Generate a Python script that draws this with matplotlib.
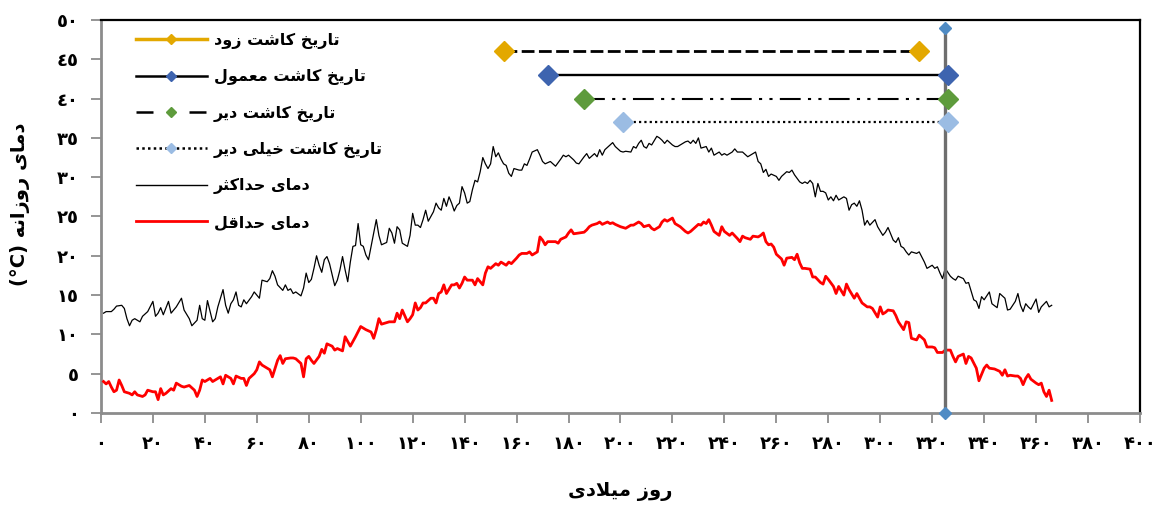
import matplotlib
matplotlib.use("Agg")
import matplotlib.pyplot as plt
from matplotlib.lines import Line2D
from matplotlib.font_manager import FontProperties

# ---------------------------------------------------------------- data
# daily maximum temperature (°C) by day of year
tmax_days = [
    1, 2, 4, 5, 6, 8, 9, 10, 11, 12,
    13, 15, 16, 18, 20, 21, 22, 23, 24, 26,
    27, 29, 31, 32, 34, 35, 37, 38, 39, 40,
    41, 43, 44, 45, 47, 48, 49, 50, 51, 52,
    53, 54, 55, 56, 58, 59, 61, 62, 64, 65,
    66, 67, 68, 70, 71, 72, 73, 74, 75, 77,
    78, 79, 80, 81, 82, 83, 84, 85, 86, 87,
    88, 89, 90, 91, 92, 93, 94, 95, 96, 97,
    98, 99, 100, 101, 102, 103, 104, 106, 107, 108,
    110, 111, 112, 113, 114, 115, 116, 118, 119, 120,
    121, 122, 123, 124, 125, 126, 128, 129, 130, 131,
    132, 133, 134, 135, 136, 137, 138, 139, 140, 141,
    142, 143, 144, 145, 146, 147, 148, 149, 150, 151,
    152, 153, 154, 155, 156, 157, 158, 159, 161, 162,
    163, 164, 165, 166, 168, 169, 170, 171, 173, 174,
    175, 177, 178, 179, 180, 182, 183, 184, 186, 187,
    188, 190, 191, 192, 193, 194, 196, 197, 198, 200,
    201, 202, 204, 205, 206, 207, 208, 209, 210, 211,
    212, 214, 215, 216, 217, 218, 220, 221, 222, 223,
    225, 226, 227, 228, 229, 230, 231, 233, 234, 235,
    236, 238, 239, 240, 241, 243, 244, 245, 246, 247,
    249, 250, 252, 253, 254, 255, 256, 257, 258, 260,
    261, 262, 264, 265, 266, 267, 269, 270, 271, 272,
    273, 274, 275, 276, 277, 278, 279, 280, 281, 282,
    283, 284, 286, 287, 288, 289, 290, 291, 292, 293,
    294, 295, 296, 298, 299, 301, 302, 303, 304, 305,
    306, 307, 308, 309, 310, 311, 312, 314, 315, 317,
    318, 320, 321, 322, 323, 324, 325, 327, 328, 329,
    330, 332, 333, 334, 336, 337, 338, 339, 340, 342,
    343, 345, 346, 348, 349, 350, 352, 353, 354, 355,
    356, 357, 358, 360, 361, 362, 364, 365, 366,
]
tmax_values = [
    12.7, 12.9, 12.9, 13.2, 13.6, 13.7, 13.3, 12.0, 11.1, 11.8,
    12.0, 11.6, 12.3, 12.9, 14.2, 12.3, 12.7, 13.4, 12.5, 14.2,
    12.7, 13.5, 14.6, 13.1, 12.0, 11.1, 11.8, 13.7, 12.0, 11.8,
    14.3, 11.6, 12.0, 13.5, 15.7, 13.7, 12.7, 13.9, 14.4, 15.4,
    13.7, 13.5, 14.4, 13.9, 14.8, 15.4, 14.6, 16.9, 16.7, 17.1,
    18.1, 17.4, 16.3, 15.6, 16.3, 15.6, 15.8, 15.2, 15.4, 14.9,
    15.9, 17.8, 16.6, 17.0, 18.4, 20.0, 18.8, 17.9, 19.5, 19.9,
    19.0, 17.6, 16.2, 16.9, 18.2, 19.9, 18.2, 16.7, 19.2, 21.2,
    21.3, 24.1, 21.4, 21.2, 20.1, 19.5, 21.2, 24.6, 22.6, 21.4,
    21.7, 23.5, 22.9, 21.6, 23.7, 23.3, 21.6, 21.2, 22.6, 25.4,
    23.9, 23.9, 23.6, 24.6, 25.8, 24.4, 25.6, 26.7, 26.1, 25.8,
    27.3, 26.3, 27.5, 26.7, 25.7, 26.4, 26.7, 28.8, 28.0, 26.7,
    26.9, 28.4, 29.6, 29.4, 30.7, 32.5, 31.7, 31.1, 31.7, 33.9,
    32.6, 33.1, 32.3, 31.7, 31.5, 30.5, 30.1, 31.1, 30.9, 30.9,
    31.7, 31.5, 32.3, 33.2, 33.5, 32.8, 32.0, 31.7, 32.0, 31.7,
    31.4, 32.3, 32.8, 32.6, 32.8, 32.2, 31.8, 31.7, 32.6, 33.0,
    32.4, 33.0, 32.6, 33.5, 32.8, 33.5, 34.1, 34.4, 33.9, 33.3,
    33.2, 33.3, 33.2, 33.9, 33.7, 34.3, 34.7, 33.9, 33.7, 34.3,
    34.1, 35.2, 35.0, 34.7, 34.3, 34.7, 34.1, 33.9, 33.9, 34.1,
    34.5, 34.6, 34.3, 34.7, 34.3, 35.0, 33.7, 33.9, 33.2, 33.7,
    32.8, 33.2, 32.8, 33.0, 32.8, 33.2, 33.6, 33.2, 33.2, 33.2,
    32.6, 32.8, 33.2, 32.0, 31.7, 30.6, 31.0, 30.1, 30.4, 30.1,
    29.6, 30.1, 30.7, 30.6, 30.9, 30.3, 29.4, 29.2, 29.4, 29.2,
    29.6, 29.2, 27.5, 29.2, 28.2, 28.2, 28.0, 27.1, 27.5, 27.0,
    27.7, 27.1, 27.5, 27.3, 25.8, 26.5, 26.7, 26.3, 27.0, 25.8,
    23.9, 24.5, 23.9, 24.6, 23.7, 22.6, 23.0, 23.6, 22.8, 22.0,
    21.7, 22.3, 21.2, 21.0, 20.5, 20.1, 20.5, 20.3, 20.5, 19.2,
    18.4, 18.8, 18.4, 18.6, 17.8, 17.1, 18.4, 17.4, 17.1, 16.9,
    17.4, 17.1, 16.5, 16.6, 14.4, 14.2, 13.3, 14.8, 14.4, 15.4,
    13.9, 13.4, 15.2, 14.6, 13.1, 13.2, 14.2, 15.2, 13.7, 12.9,
    13.9, 13.5, 13.2, 14.5, 12.8, 13.5, 14.2, 13.5, 13.7,
]

# daily minimum temperature (°C) by day of year
tmin_days = [
    1, 2, 3, 4, 5, 6, 7, 8, 9, 11,
    12, 13, 14, 16, 17, 18, 20, 21, 22, 23,
    24, 25, 27, 28, 29, 31, 32, 34, 36, 37,
    38, 39, 40, 42, 43, 45, 46, 47, 48, 50,
    51, 52, 54, 55, 56, 57, 59, 60, 61, 62,
    64, 65, 66, 68, 69, 70, 71, 73, 74, 75,
    77, 78, 79, 80, 81, 82, 84, 85, 86, 87,
    89, 90, 91, 93, 94, 95, 96, 97, 98, 100,
    101, 102, 104, 105, 106, 107, 108, 110, 111, 113,
    114, 115, 116, 118, 119, 120, 121, 122, 123, 124,
    125, 127, 128, 129, 130, 131, 132, 133, 135, 136,
    137, 138, 139, 140, 141, 143, 144, 145, 147, 148,
    149, 150, 152, 153, 154, 156, 157, 158, 160, 161,
    162, 164, 165, 166, 168, 169, 170, 171, 172, 173,
    175, 176, 177, 179, 180, 181, 182, 184, 186, 187,
    188, 189, 191, 192, 193, 195, 196, 197, 198, 200,
    201, 202, 204, 205, 206, 207, 208, 209, 211, 212,
    213, 215, 216, 217, 218, 220, 221, 222, 223, 225,
    226, 227, 229, 230, 231, 232, 233, 234, 235, 236,
    238, 239, 240, 242, 243, 245, 246, 247, 248, 250,
    251, 253, 254, 255, 256, 257, 258, 259, 260, 261,
    262, 263, 264, 266, 267, 268, 269, 270, 271, 273,
    274, 275, 277, 278, 279, 280, 282, 283, 284, 286,
    287, 288, 290, 291, 292, 293, 295, 296, 297, 299,
    300, 301, 302, 303, 305, 306, 307, 309, 310, 311,
    312, 314, 315, 317, 318, 320, 321, 322, 324, 325,
    327, 328, 329, 330, 332, 333, 334, 335, 337, 338,
    340, 341, 342, 344, 346, 347, 348, 349, 350, 352,
    353, 354, 355, 356, 357, 358, 360, 361, 362, 363,
    364, 365, 366,
]
tmin_values = [
    4.0, 3.7, 4.0, 3.3, 2.7, 2.9, 4.2, 3.5, 2.7, 2.5,
    2.3, 2.7, 2.3, 2.1, 2.3, 2.9, 2.7, 2.7, 1.7, 3.1,
    2.3, 2.5, 3.1, 2.9, 3.8, 3.4, 3.3, 3.5, 2.9, 2.1,
    2.9, 4.2, 4.0, 4.4, 4.0, 4.4, 4.6, 3.7, 4.8, 4.4,
    3.7, 4.7, 4.4, 4.4, 3.5, 4.4, 5.0, 5.5, 6.5, 6.1,
    5.7, 5.5, 4.6, 6.7, 7.3, 6.3, 6.9, 7.0, 7.0, 6.9,
    6.3, 4.6, 6.9, 7.2, 6.7, 6.3, 7.2, 8.1, 7.6, 8.8,
    8.5, 8.0, 8.2, 7.9, 9.7, 9.1, 8.5, 9.1, 9.7, 11.0,
    10.8, 10.6, 10.3, 9.5, 10.6, 12.0, 11.3, 11.5, 11.6, 11.6,
    12.7, 12.0, 13.1, 11.6, 12.0, 12.5, 14.0, 13.1, 13.4, 14.0,
    14.0, 14.6, 14.6, 14.0, 15.2, 15.4, 16.3, 15.2, 16.3, 16.3,
    16.5, 15.9, 16.5, 17.3, 16.9, 16.9, 16.3, 17.1, 16.3, 17.8,
    18.6, 18.4, 19.0, 18.8, 19.2, 18.8, 19.2, 19.0, 19.7, 20.1,
    20.3, 20.3, 20.5, 20.1, 20.5, 22.4, 22.0, 21.4, 21.8, 21.8,
    21.8, 21.6, 22.1, 22.4, 22.9, 23.3, 22.8, 22.9, 23.0, 23.3,
    23.7, 23.9, 24.1, 24.3, 24.0, 24.3, 24.1, 24.2, 24.0, 23.7,
    23.6, 23.5, 23.9, 23.9, 24.1, 24.3, 24.1, 23.7, 23.9, 23.5,
    23.3, 23.7, 24.3, 24.6, 24.4, 24.8, 24.1, 23.9, 23.7, 23.1,
    22.9, 23.1, 23.7, 24.0, 23.9, 24.3, 24.1, 24.6, 23.9, 23.1,
    22.6, 23.7, 23.1, 22.6, 22.9, 22.2, 21.8, 22.5, 22.3, 22.1,
    22.5, 22.4, 22.6, 22.9, 21.8, 21.4, 21.5, 21.1, 20.2, 19.9,
    19.6, 18.8, 19.7, 19.8, 19.5, 20.2, 19.1, 18.4, 18.4, 18.3,
    17.3, 17.3, 16.6, 16.4, 17.4, 17.0, 16.1, 15.2, 16.1, 15.0,
    16.4, 15.7, 14.6, 15.2, 14.6, 14.0, 13.5, 13.5, 13.3, 12.2,
    13.5, 12.6, 12.8, 13.1, 13.0, 12.4, 11.6, 10.6, 11.6, 11.5,
    9.5, 9.3, 9.9, 9.3, 8.4, 8.4, 8.3, 7.7, 7.7, 8.0,
    8.0, 7.2, 6.5, 7.2, 7.5, 6.3, 7.2, 7.0, 5.7, 4.1,
    5.7, 6.1, 5.7, 5.6, 5.3, 4.8, 5.5, 4.7, 4.8, 4.7,
    4.7, 4.4, 3.6, 4.4, 4.9, 4.3, 3.8, 3.6, 3.8, 2.7,
    2.1, 2.9, 1.6,
]

# sowing windows: start day, end day and the height each bar is drawn at
sowing_names = ["تاریخ کاشت زود", "تاریخ کاشت معمول",
                "تاریخ کاشت دیر", "تاریخ کاشت خیلی دیر"]
sowing_start = [155, 172, 186, 201]
sowing_end = [315, 326, 326, 326]
sowing_level = [46, 43, 40, 37]

# reference day marked by the vertical line
harvest_day = 325
harvest_span = [0, 49]

tmax_name = "دمای حداکثر"
tmin_name = "دمای حداقل"
x_title = "روز میلادی"
y_title = "دمای روزانه"

x_ticks = list(range(0, 401, 20))
y_ticks = list(range(0, 51, 5))

# ---------------------------------------------------------------- Persian text
# matplotlib has no bidi/shaping, so map letters to their contextual
# presentation forms and lay them out right-to-left by hand.
FORMS = {  # isolated, final, initial, medial
    "\u0627": ("\uFE8D", "\uFE8E", None, None),
    "\u062A": ("\uFE95", "\uFE96", "\uFE97", "\uFE98"),
    "\u062B": ("\uFE99", "\uFE9A", "\uFE9B", "\uFE9C"),
    "\u062D": ("\uFEA1", "\uFEA2", "\uFEA3", "\uFEA4"),
    "\u062E": ("\uFEA5", "\uFEA6", "\uFEA7", "\uFEA8"),
    "\u062F": ("\uFEA9", "\uFEAA", None, None),
    "\u0631": ("\uFEAD", "\uFEAE", None, None),
    "\u0632": ("\uFEAF", "\uFEB0", None, None),
    "\u0634": ("\uFEB5", "\uFEB6", "\uFEB7", "\uFEB8"),
    "\u0639": ("\uFEC9", "\uFECA", "\uFECB", "\uFECC"),
    "\u0642": ("\uFED5", "\uFED6", "\uFED7", "\uFED8"),
    "\u06A9": ("\uFB8E", "\uFB8F", "\uFB90", "\uFB91"),
    "\u0644": ("\uFEDD", "\uFEDE", "\uFEDF", "\uFEE0"),
    "\u0645": ("\uFEE1", "\uFEE2", "\uFEE3", "\uFEE4"),
    "\u0646": ("\uFEE5", "\uFEE6", "\uFEE7", "\uFEE8"),
    "\u0647": ("\uFEE9", "\uFEEA", "\uFEEB", "\uFEEC"),
    "\u0648": ("\uFEED", "\uFEEE", None, None),
    "\u06CC": ("\uFBFC", "\uFBFD", "\uFBFE", "\uFBFF"),
}
LAM, ALEF = "\u0644", "\u0627"


def _joins_forward(c):
    return c in FORMS and FORMS[c][2] is not None


def rtl(text):
    out = []
    i, n = 0, len(text)
    while i < n:
        c = text[i]
        prev = text[i - 1] if i > 0 else ""
        join_prev = _joins_forward(prev)
        if c == LAM and i + 1 < n and text[i + 1] == ALEF:
            out.append("\uFEFC" if join_prev else "\uFEFB")
            i += 2
            continue
        if c not in FORMS:
            out.append(c)
            i += 1
            continue
        nxt = text[i + 1] if i + 1 < n else ""
        join_next = _joins_forward(c) and nxt in FORMS
        iso, fin, ini, med = FORMS[c]
        if join_prev and join_next:
            out.append(med)
        elif join_prev:
            out.append(fin)
        elif join_next:
            out.append(ini)
        else:
            out.append(iso)
        i += 1
    return "".join(reversed(out))


def digits(value, zero):
    return "".join(chr(ord(zero) + int(d)) for d in str(value))


# ---------------------------------------------------------------- figure
FONT = "DejaVu Sans"
plt.rcParams["font.family"] = [FONT]

fig = plt.figure(figsize=(11.59, 5.05), dpi=100)
ax = fig.add_axes([0.0871, 0.1822, 0.8965, 0.7782])

ax.plot(tmax_days, tmax_values, color="black", lw=0.9, zorder=3)
ax.plot(tmin_days, tmin_values, color="#FF0000", lw=2.0, zorder=3)

sowing_styles = [
    dict(ls=(0, (4.6, 1.6)), lw=2.0, mc="#E3A800"),
    dict(ls="-", lw=1.7, mc="#3E64AF"),
    dict(ls=(0, (10, 3.5, 1.5, 3.5, 1.5, 3.5)), lw=1.5, mc="#5E9B3C"),
    dict(ls=(0, (1, 1.4)), lw=1.6, mc="#9BBCE3"),
]
for s, e, lev, st in zip(sowing_start, sowing_end, sowing_level, sowing_styles):
    ax.plot([s, e], [lev, lev], color="black", ls=st["ls"], lw=st["lw"],
            zorder=4)
    ax.plot([s, e], [lev, lev], ls="none", marker="D", ms=10,
            mfc=st["mc"], mec=st["mc"], zorder=6)

ax.plot([harvest_day, harvest_day], harvest_span, color="#6E6E6E", lw=2.4,
        marker="D", ms=6.5, mfc="#4F8BC4", mec="#4F8BC4", zorder=5,
        clip_on=False)

ax.set_xlim(0, 400)
ax.set_ylim(0, 50)
ax.set_xticks(x_ticks)
ax.set_xticklabels([digits(v, "\u06F0") for v in x_ticks])
ax.set_yticks(y_ticks)
ax.set_yticklabels([digits(v, "\u0660") for v in y_ticks])

tick_font = FontProperties(family=FONT, weight="bold", size=13)
for lab in ax.get_xticklabels() + ax.get_yticklabels():
    lab.set_fontproperties(tick_font)

ax.tick_params(axis="both", direction="out", length=7, width=1.3,
               color="#8C8C8C", pad=9)

for side in ("left", "bottom"):
    ax.spines[side].set_color("#8C8C8C")
    ax.spines[side].set_linewidth(2.0)
for side in ("top", "right"):
    ax.spines[side].set_color("black")
    ax.spines[side].set_linewidth(1.6)

label_font = FontProperties(family=FONT, weight="bold", size=14)
ax.set_xlabel(rtl(x_title), fontproperties=label_font)
ax.xaxis.set_label_coords(0.5, -0.175)
ax.set_ylabel("(°C) " + rtl(y_title), fontproperties=label_font)
ax.yaxis.set_label_coords(-0.068, 0.53)

handles = [
    Line2D([], [], color="#E3A800", lw=2.5, marker="D", ms=5.5,
           mfc="#E3A800", mec="#E3A800"),
    Line2D([], [], color="black", lw=1.8, marker="D", ms=5.5,
           mfc="#3E64AF", mec="#3E64AF"),
    Line2D([], [], color="black", lw=1.8, ls=(0, (6.8, 14.4)), marker="D",
           ms=5.5, mfc="#5E9B3C", mec="#5E9B3C"),
    Line2D([], [], color="black", lw=1.8, ls=(0, (1, 1.3)), marker="D",
           ms=5.5, mfc="#9BBCE3", mec="#9BBCE3"),
    Line2D([], [], color="black", lw=1.0),
    Line2D([], [], color="#FF0000", lw=2.0),
]
labels = [rtl(t) for t in sowing_names + [tmax_name, tmin_name]]
ax.legend(handles, labels, loc="upper left", bbox_to_anchor=(0.034, 0.968),
          frameon=False, prop=FontProperties(family=FONT, weight="bold",
                                              size=11.5),
          handlelength=4.4, handletextpad=0.44, labelspacing=1.27,
          borderpad=0, borderaxespad=0, markerfirst=True)

fig.savefig("out.png", dpi=100)
